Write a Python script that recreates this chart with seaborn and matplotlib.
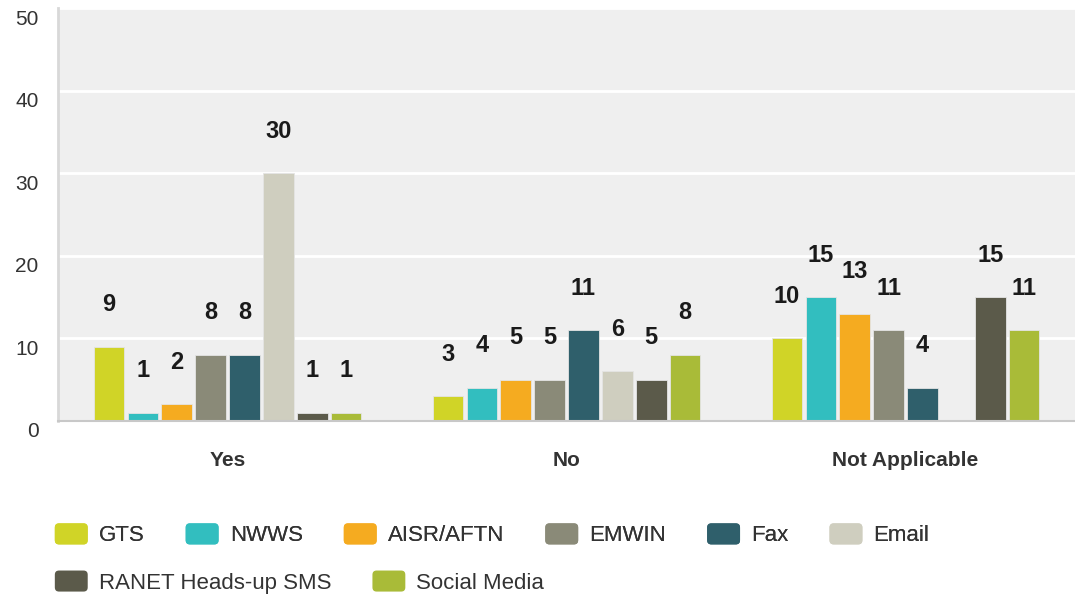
import pandas as pd
import matplotlib.pyplot as plt
import matplotlib.transforms as mtransforms
import seaborn as sns
from matplotlib.patches import Patch, FancyBboxPatch
from matplotlib.legend_handler import HandlerPatch

# Chart data
categories = ["Yes", "No", "Not Applicable"]
series = ["GTS", "NWWS", "AISR/AFTN", "EMWIN", "Fax", "Email",
          "RANET Heads-up SMS", "Social Media"]
gts = [9, 3, 10]
nwws = [1, 4, 15]
aisr = [2, 5, 13]
emwin = [8, 5, 11]
fax = [8, 11, 4]
email = [30, 6, 0]
ranet = [1, 5, 15]
social = [1, 8, 11]

colors = ["#D0D427", "#32BEBF", "#F5AB20", "#8A8A78", "#2F5F6B",
          "#CFCEBF", "#5B5A4A", "#A9BB38"]

values = [gts, nwws, aisr, emwin, fax, email, ranet, social]
rows = []
for name, vals in zip(series, values):
    for cat, v in zip(categories, vals):
        rows.append({"Category": cat, "Channel": name, "Count": v})
df = pd.DataFrame(rows)


class RoundedHandler(HandlerPatch):
    """Legend swatch with slightly rounded corners."""
    def create_artists(self, legend, orig_handle, xdescent, ydescent,
                       width, height, fontsize, trans):
        p = FancyBboxPatch((-xdescent, -ydescent), width, height,
                           boxstyle="round,pad=0,rounding_size=3",
                           facecolor=orig_handle.get_facecolor(),
                           edgecolor="none", transform=trans)
        return [p]


sns.set_theme(style="white")
plt.rcParams["font.family"] = ["Liberation Sans", "DejaVu Sans"]

fig = plt.figure(figsize=(10.75, 5.97), dpi=100)
ax = fig.add_axes([0.054, 0.295, 0.946, 0.691])
ax.set_facecolor("#EFEFEF")

sns.barplot(data=df, x="Category", y="Count", hue="Channel",
            order=categories, hue_order=series, palette=colors,
            saturation=1, width=0.8, gap=0.1, edgecolor="#E4E4E4",
            linewidth=0.6, legend=False, ax=ax)

# Value labels above bars (skip empty ones)
for cont, vals in zip(ax.containers, values):
    labels = [str(v) if v > 0 else "" for v in vals]
    ax.bar_label(cont, labels=labels, padding=22, fontsize=17,
                 fontweight="bold", color="#1a1a1a")

ax.set_ylim(0, 50)
ax.set_xlim(-0.5, 2.5)
ax.set_yticks([0, 10, 20, 30, 40, 50])
ax.yaxis.grid(True, color="white", linewidth=2)
ax.set_axisbelow(True)
ax.set_xlabel("")
ax.set_ylabel("")
ax.tick_params(axis="y", length=0, pad=14, labelsize=15, labelcolor="#333333")
ax.tick_params(axis="x", length=0, pad=22, labelsize=15, labelcolor="#333333")
for lbl in ax.get_xticklabels():
    lbl.set_fontweight("bold")
# y tick labels sit a little below their gridlines in the original
shift = mtransforms.ScaledTranslation(0, -0.09, fig.dpi_scale_trans)
for lbl in ax.get_yticklabels():
    lbl.set_transform(lbl.get_transform() + shift)

for side in ["top", "right"]:
    ax.spines[side].set_visible(False)
ax.spines["left"].set_color("#D8D8D8")
ax.spines["left"].set_linewidth(2)
ax.spines["bottom"].set_color("#C8C8C8")
ax.spines["bottom"].set_linewidth(1.5)

# Legend, flowing over two rows
handles = [Patch(facecolor=c, edgecolor="none") for c in colors]
leg_kw = dict(frameon=False, fontsize=16, handlelength=1.48, handleheight=1.08,
              handletextpad=0.5, columnspacing=1.85, borderpad=0,
              borderaxespad=0, loc="center left", labelcolor="#333333",
              handler_map={Patch: RoundedHandler()})
leg1 = fig.legend(handles[:6], series[:6], ncol=6,
                  bbox_to_anchor=(0.051, 0.104), **leg_kw)
fig.add_artist(leg1)
fig.legend(handles[6:], series[6:], ncol=2,
           bbox_to_anchor=(0.051, 0.025), **leg_kw)

plt.savefig("out.png", dpi=100)
